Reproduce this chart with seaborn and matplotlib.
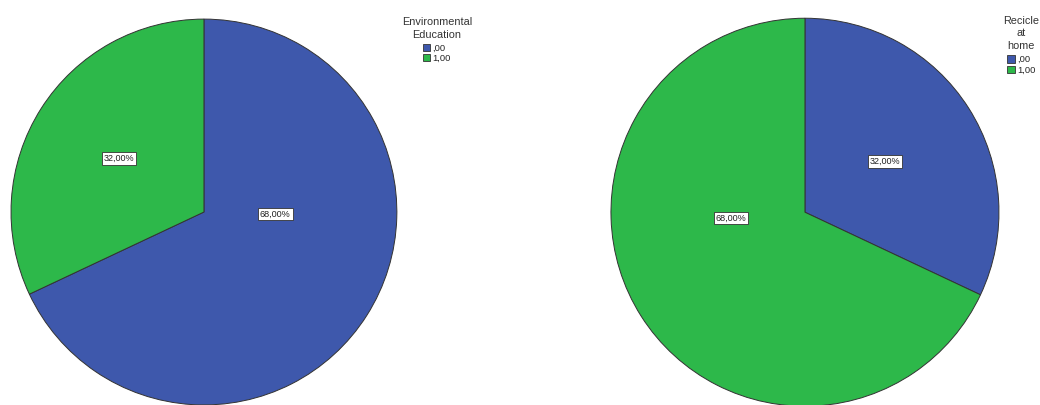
import matplotlib
matplotlib.use("Agg")
import matplotlib.pyplot as plt
import seaborn as sns
from matplotlib.patches import Patch

categories = [",00", "1,00"]
env_education = [68.0, 32.0]
recycle_home = [32.0, 68.0]
titles = ["Environmental\nEducation", "Recicle\nat\nhome"]

sns.set_theme(style="white")
plt.rcParams['font.family'] = ['Arial', 'Liberation Sans', 'DejaVu Sans']
colors = ["#3e58ac", "#2db84a"]

fig = plt.figure(figsize=(10.4, 4.05), dpi=100)
ax1 = fig.add_axes([0.0106, 0.0, 0.371, 0.953])
ax2 = fig.add_axes([0.5865, -0.003, 0.375, 0.958])


def fmt(p):
    return f"{p:.2f}%".replace(".", ",")


def draw(ax, values, big_pos, small_dist):
    wedges, texts, autotexts = ax.pie(
        values, colors=colors, startangle=90, counterclock=False,
        autopct=fmt, pctdistance=small_dist,
        wedgeprops=dict(edgecolor="#333333", linewidth=0.7),
        textprops=dict(fontsize=6.5, color="#222222"))
    for v, t in zip(values, autotexts):
        t.set_bbox(dict(boxstyle="square,pad=0.2", facecolor="white",
                        edgecolor="#333333", linewidth=0.6))
        if v == max(values):
            t.set_position(big_pos)
    ax.set_aspect("equal")
    ax.set_xlim(-1.0, 1.0)
    ax.set_ylim(-1.0, 1.0)
    ax.axis("off")


draw(ax1, env_education, (0.37, -0.01), 0.52)
draw(ax2, recycle_home, (-0.38, -0.03), 0.49)

handles = [Patch(facecolor=c, edgecolor="#333333", linewidth=0.6) for c in colors]
legs = []
for title, anchor in [(titles[0], (0.420, 0.975)), (titles[1], (0.982, 0.978))]:
    leg = fig.legend(handles, categories, title=title, loc="upper center",
                     bbox_to_anchor=anchor, frameon=False, fontsize=6.8,
                     title_fontsize=7.8, handlelength=0.8, handleheight=0.8,
                     handletextpad=0.2, labelspacing=0.15, borderpad=0.2)
    leg.get_title().set_color("#333333")
    leg.get_title().set_multialignment("center")
    leg.get_title().set_linespacing(1.35)
    leg._legend_box.sep = 3
    legs.append(leg)

fig.savefig("out.png", dpi=100)
